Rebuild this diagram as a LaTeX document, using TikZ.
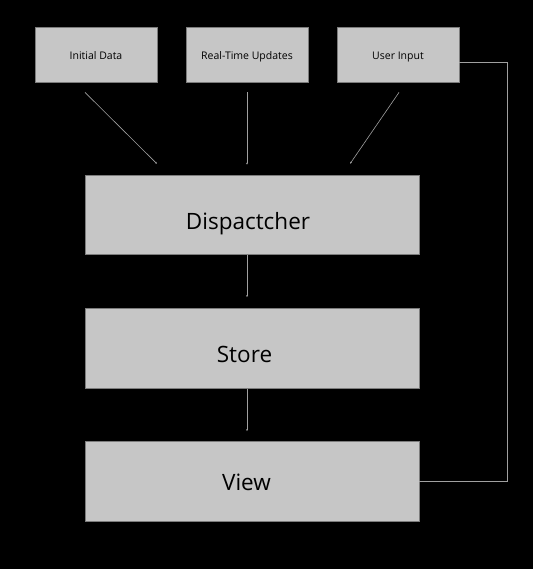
\documentclass[tikz,border=0pt]{standalone}
\usepackage{fontspec}
\setmainfont{Open Sans}
\usetikzlibrary{arrows.meta}
\definecolor{boxfill}{HTML}{C6C6C6}
\definecolor{boxline}{HTML}{7C7C7C}
\definecolor{wire}{HTML}{A0A0A0}
\tikzset{>={Latex[length=2pt,width=2pt]}}
\tikzset{
    srcbox/.style={draw=boxline,fill=boxfill,line width=0.8pt,inner sep=0pt,
        minimum width=122pt,minimum height=55pt,font=\fontsize{10.5}{13}\selectfont,
        text=black,text height=11pt,text depth=0pt},
    stagebox/.style={draw=boxline,fill=boxfill,line width=0.8pt,inner sep=0pt,
        minimum width=334pt,minimum height=79.5pt},
    stagetext/.style={font=\fontsize{22.5}{26}\selectfont,text=black,inner sep=0pt,
        text height=0pt,text depth=0pt},
    wire/.style={draw=wire,line width=0.6pt}
}

\begin{document}
\begin{tikzpicture}[x=1pt,y=1pt]
            \fill[black] (0,0) rectangle (533,-569);
            \useasboundingbox (0,0) rectangle (533,-569);
            % sources
            \node[srcbox] (init) at (96,-54.5) {Initial Data};
            \node[srcbox] (rtu) at (247,-54.5) {Real-Time Updates};
            \node[srcbox] (ui) at (398,-54.5) {User Input};
            % stages
            \node[stagebox,label={[stagetext,xshift=-4pt,yshift=-14pt]center:Dispactcher}] (disp) at (252,-215) {};
            \node[stagebox,label={[stagetext,xshift=-7.5pt,yshift=-14pt]center:Store}] (store) at (252,-348.5) {};
            \node[stagebox,label={[stagetext,xshift=-5.5pt,yshift=-8.5pt]center:View}] (view) at (252,-481.5) {};
            % connectors
            \draw[wire,->] ([xshift=-11pt,yshift=-10pt]init.south) -- ([xshift=-95pt,yshift=11pt]disp.north);
            \draw[wire,->] ([yshift=-10pt]rtu.south) -- ([xshift=-5pt,yshift=10pt]disp.north);
            \draw[wire,->] ([xshift=1pt,yshift=-10pt]ui.south) -- ([xshift=98pt,yshift=11pt]disp.north);
            \draw[wire,->] ([xshift=-5pt]disp.south) -- ([xshift=-5pt,yshift=11pt]store.north);
            \draw[wire,->] ([xshift=-5pt]store.south) -- ([xshift=-5pt,yshift=10pt]view.north);
            \draw[wire] ([yshift=-7.5pt]ui.east) -- ++(48,0) |- (view.east);
        \end{tikzpicture}
\end{document}
